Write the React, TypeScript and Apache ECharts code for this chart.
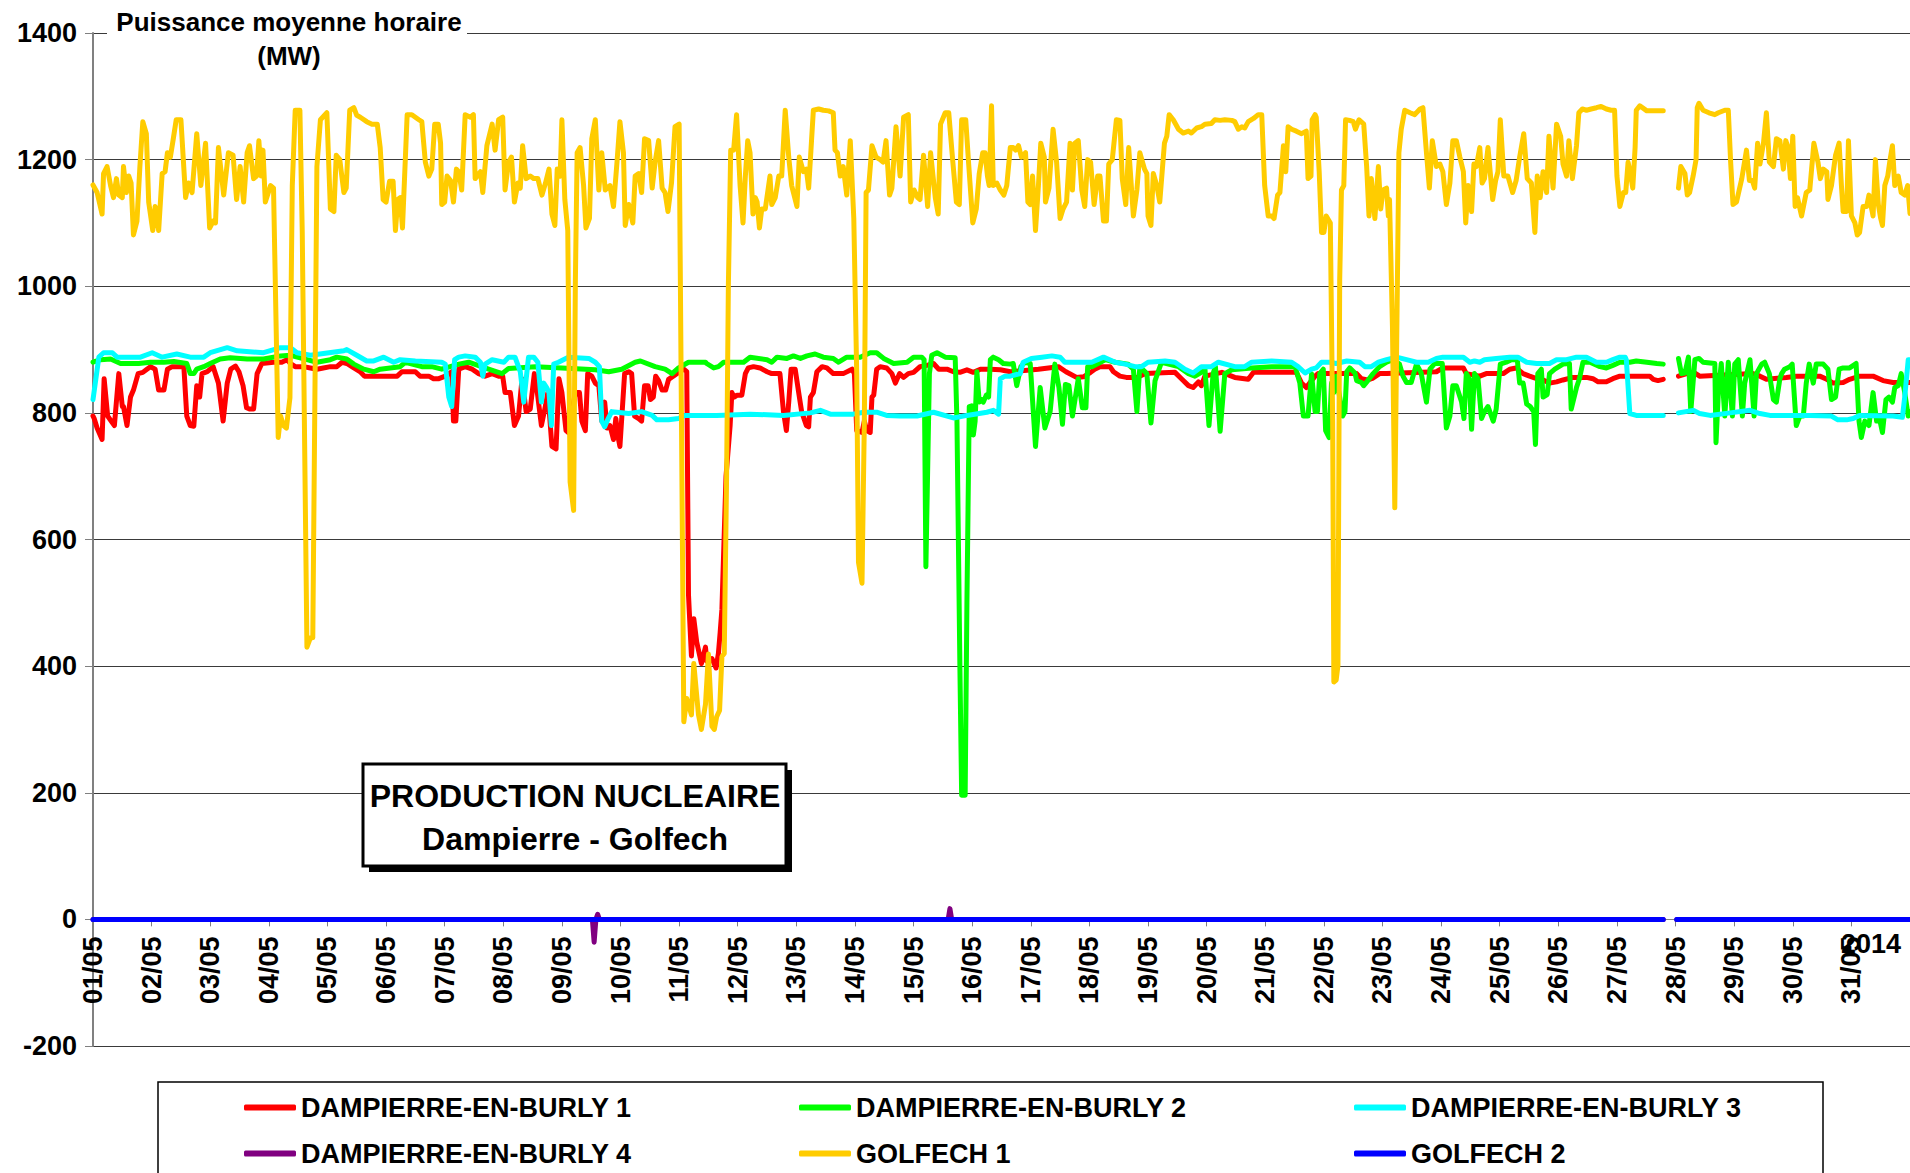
import React, { useEffect, useRef } from 'react';
import * as echarts from 'echarts';

// ---------- DATA (x = days since 01/05 00:00, y = MW) ----------
const dayLabels = ['01/05','02/05','03/05','04/05','05/05','06/05','07/05','08/05','09/05','10/05','11/05','12/05','13/05','14/05','15/05','16/05','17/05','18/05','19/05','20/05','21/05','22/05','23/05','24/05','25/05','26/05','27/05','28/05','29/05','30/05','31/05'];
const yearLabel = '2014';
const yTitle = 'Puissance moyenne horaire\n(MW)';
const boxTitle = 'PRODUCTION NUCLEAIRE\nDampierre - Golfech';
const seriesNames = ['DAMPIERRE-EN-BURLY 1','DAMPIERRE-EN-BURLY 2','DAMPIERRE-EN-BURLY 3','DAMPIERRE-EN-BURLY 4','GOLFECH 1','GOLFECH 2'];
const seriesColors = ['#FF0000','#00FF00','#00FFFF','#800080','#FFCC00','#0000FF'];

const dampierre1 = [[0,795],[0.02,791],[0.07,776],[0.155,758],[0.19,854],[0.25,795],[0.31,787],[0.365,780],[0.44,862],[0.50,810],[0.52,810],[0.58,780],[0.64,825],[0.69,836],[0.77,862],[0.85,864],[0.92,869],[0.98,873],[1.06,869],[1.12,836],[1.21,836],[1.27,869],[1.35,873],[1.55,873],[1.60,795],[1.66,780],[1.72,779],[1.77,843],[1.82,825],[1.86,862],[1.95,865],[2.05,873],[2.14,847],[2.22,787],[2.29,847],[2.35,869],[2.43,874],[2.49,865],[2.56,843],[2.62,808],[2.67,806],[2.74,806],[2.80,862],[2.88,878],[3.08,880],[3.22,880],[3.31,884],[3.37,878],[3.45,873],[3.59,873],[3.71,871],[3.82,869],[3.93,871],[4.05,873],[4.16,873],[4.25,880],[4.33,878],[4.45,871],[4.56,865],[4.63,858],[4.73,858],[5.19,858],[5.27,865],[5.39,865],[5.50,865],[5.58,858],[5.73,858],[5.81,854],[5.90,854],[6.01,858],[6.12,865],[6.15,787],[6.19,787],[6.24,869],[6.35,873],[6.47,869],[6.58,862],[6.69,858],[6.81,862],[6.92,858],[6.99,858],[7.03,832],[7.12,832],[7.19,780],[7.26,795],[7.32,854],[7.39,802],[7.46,806],[7.53,862],[7.57,840],[7.65,780],[7.70,802],[7.76,832],[7.83,747],[7.90,743],[7.95,854],[8.00,832],[8.07,772],[8.11,769],[8.17,802],[8.23,832],[8.30,832],[8.34,787],[8.40,772],[8.44,862],[8.51,858],[8.57,847],[8.63,843],[8.68,787],[8.73,817],[8.77,776],[8.82,780],[8.88,758],[8.92,791],[8.96,761],[8.99,747],[9.07,862],[9.14,865],[9.19,862],[9.24,795],[9.31,791],[9.36,787],[9.41,843],[9.47,843],[9.51,821],[9.56,825],[9.60,858],[9.65,851],[9.71,836],[9.77,836],[9.82,853],[9.90,858],[9.99,864],[10.08,869],[10.13,865],[10.16,512],[10.21,416],[10.25,475],[10.30,438],[10.38,404],[10.45,430],[10.47,408],[10.56,412],[10.63,397],[10.67,420],[10.70,453],[10.73,490],[10.80,700],[10.87,780],[10.90,832],[10.94,825],[10.99,828],[11.07,828],[11.13,862],[11.18,871],[11.27,873],[11.38,871],[11.50,865],[11.58,862],[11.72,862],[11.78,802],[11.83,772],[11.87,817],[11.91,869],[11.98,869],[12.04,832],[12.09,802],[12.17,780],[12.21,778],[12.24,825],[12.29,832],[12.35,865],[12.44,873],[12.52,871],[12.63,862],[12.80,862],[12.95,869],[12.99,862],[13.03,772],[13.12,769],[13.16,787],[13.20,772],[13.26,769],[13.29,825],[13.32,828],[13.37,869],[13.43,873],[13.54,871],[13.63,862],[13.69,847],[13.76,862],[13.83,856],[13.91,862],[14.00,864],[14.11,873],[14.23,875],[14.34,878],[14.43,869],[14.57,869],[14.68,865],[14.79,864],[14.91,868],[15.02,864],[15.14,869],[15.31,869],[15.48,868],[15.65,865],[16.13,869],[16.47,873],[16.60,865],[16.78,856],[16.90,857],[17.02,864],[17.09,869],[17.18,873],[17.35,873],[17.41,865],[17.52,858],[17.63,856],[17.81,856],[17.95,862],[18.46,864],[18.57,854],[18.69,843],[18.77,840],[18.86,849],[18.91,843],[18.97,858],[19.26,864],[19.48,856],[19.71,853],[19.80,864],[20.11,864],[20.53,864],[20.62,847],[20.70,840],[20.79,851],[20.85,858],[20.90,862],[21.56,862],[21.64,854],[21.75,852],[21.84,855],[21.95,862],[22.07,862],[22.92,865],[23.03,871],[23.38,871],[23.43,862],[23.66,858],[23.77,862],[24.06,862],[24.17,869],[24.28,871],[24.40,862],[24.51,858],[24.63,854],[24.74,852],[24.85,847],[24.97,849],[25.08,852],[25.25,856],[25.48,856],[25.59,854],[25.68,849],[25.82,849],[25.93,854],[26.05,858],[26.56,858],[26.62,853],[26.70,851],[26.79,853],[26.9,null],[27.05,858],[27.19,862],[27.33,863],[27.41,858],[28.32,862],[28.44,858],[28.55,853],[28.89,856],[29.06,858],[29.46,858],[29.58,853],[29.69,847],[29.86,848],[29.97,853],[30.14,858],[30.37,858],[30.54,851],[30.71,848],[31.00,848]];

const dampierre2 = [[0,880],[0.13,884],[0.30,885],[0.47,878],[0.78,878],[0.98,880],[1.21,880],[1.38,881],[1.60,878],[1.66,862],[1.72,862],[1.77,869],[1.89,873],[2.00,878],[2.17,885],[2.34,887],[2.63,885],[2.91,885],[3.20,890],[3.37,891],[3.65,884],[3.82,880],[4.05,884],[4.16,888],[4.33,885],[4.45,877],[4.62,869],[4.79,865],[4.90,869],[5.07,871],[5.24,873],[5.33,880],[5.61,873],[5.78,873],[5.95,869],[6.24,877],[6.41,880],[6.75,869],[6.98,862],[7.09,870],[7.55,873],[8.00,871],[8.57,868],[8.80,865],[9.02,869],[9.25,880],[9.34,882],[9.59,873],[9.76,869],[9.88,862],[9.99,871],[10.16,880],[10.45,880],[10.47,878],[10.59,871],[10.67,873],[10.76,880],[10.93,880],[11.10,880],[11.21,888],[11.50,884],[11.58,880],[11.67,888],[11.84,886],[11.95,890],[12.07,886],[12.18,890],[12.32,893],[12.46,888],[12.63,886],[12.72,880],[12.86,888],[13.09,888],[13.26,895],[13.37,895],[13.49,886],[13.66,878],[13.89,880],[14.00,888],[14.14,888],[14.18,884],[14.21,557],[14.27,862],[14.31,891],[14.40,895],[14.54,888],[14.71,887],[14.74,787],[14.79,400],[14.82,196],[14.88,196],[14.91,500],[14.95,810],[14.99,811],[15.02,765],[15.05,787],[15.08,865],[15.12,817],[15.16,821],[15.19,817],[15.24,828],[15.28,825],[15.31,884],[15.36,888],[15.45,884],[15.53,878],[15.65,877],[15.70,878],[15.76,843],[15.83,873],[15.90,880],[15.99,878],[16.08,747],[16.16,840],[16.24,776],[16.33,802],[16.41,877],[16.48,840],[16.54,782],[16.59,845],[16.65,843],[16.71,795],[16.81,854],[16.88,808],[16.94,808],[16.97,873],[17.04,873],[17.27,884],[17.44,880],[17.66,877],[17.75,869],[17.81,802],[17.86,873],[17.98,862],[18.05,784],[18.12,851],[18.23,880],[18.52,873],[18.69,862],[18.80,858],[18.91,864],[18.97,871],[19.04,780],[19.11,862],[19.15,873],[19.23,771],[19.31,862],[19.43,868],[19.77,871],[20.11,873],[20.51,873],[20.59,847],[20.65,795],[20.73,795],[20.79,862],[20.85,802],[20.89,802],[20.93,862],[20.99,869],[21.03,772],[21.09,761],[21.13,847],[21.17,832],[21.21,858],[21.27,825],[21.32,795],[21.36,802],[21.39,865],[21.44,871],[21.53,863],[21.56,851],[21.64,848],[21.68,843],[21.75,851],[21.84,862],[21.95,873],[22.07,880],[22.18,884],[22.29,877],[22.35,858],[22.41,848],[22.49,848],[22.58,877],[22.66,863],[22.75,817],[22.81,869],[22.89,878],[23.02,878],[23.09,776],[23.15,795],[23.20,843],[23.26,843],[23.35,817],[23.39,791],[23.43,862],[23.48,854],[23.52,774],[23.57,862],[23.63,854],[23.69,791],[23.74,802],[23.80,810],[23.89,787],[23.94,806],[24.01,877],[24.11,880],[24.20,884],[24.30,884],[24.34,847],[24.40,847],[24.46,814],[24.52,810],[24.58,802],[24.61,750],[24.65,862],[24.71,869],[24.74,825],[24.81,829],[24.85,862],[24.94,869],[25.08,877],[25.19,878],[25.22,806],[25.31,840],[25.36,854],[25.42,880],[25.54,880],[25.71,873],[25.82,871],[25.93,875],[26.05,880],[26.22,880],[26.33,882],[26.51,880],[26.68,878],[26.79,877],[26.9,null],[27.05,886],[27.10,862],[27.16,863],[27.22,888],[27.26,802],[27.33,884],[27.40,886],[27.47,880],[27.67,878],[27.69,753],[27.73,832],[27.78,878],[27.84,795],[27.90,880],[27.97,795],[28.01,877],[28.07,884],[28.14,795],[28.18,847],[28.27,884],[28.34,795],[28.38,862],[28.47,877],[28.52,880],[28.60,862],[28.67,821],[28.72,817],[28.78,854],[28.81,862],[28.86,869],[28.95,873],[28.99,877],[29.06,780],[29.12,795],[29.18,795],[29.23,847],[29.28,877],[29.35,847],[29.40,877],[29.52,877],[29.60,869],[29.66,821],[29.73,825],[29.79,869],[29.86,871],[29.97,871],[30.08,878],[30.13,787],[30.17,761],[30.23,787],[30.30,780],[30.37,832],[30.43,787],[30.47,795],[30.53,769],[30.59,821],[30.64,825],[30.70,817],[30.74,840],[30.80,843],[30.85,862],[30.91,832],[30.97,795],[31.00,802]];

const dampierre3 = [[0,821],[0.10,888],[0.18,895],[0.33,895],[0.41,888],[0.81,888],[1.01,895],[1.18,888],[1.43,893],[1.66,888],[1.89,888],[2.00,895],[2.29,903],[2.46,898],[2.91,895],[3.20,903],[3.37,903],[3.48,895],[3.71,891],[4.28,898],[4.33,900],[4.50,891],[4.67,882],[4.79,882],[4.96,888],[5.13,880],[5.24,884],[5.50,882],[5.95,880],[6.01,877],[6.07,825],[6.12,810],[6.17,884],[6.24,888],[6.35,890],[6.52,888],[6.61,880],[6.65,858],[6.69,877],[6.81,884],[7.01,880],[7.09,888],[7.20,888],[7.29,865],[7.35,817],[7.40,862],[7.43,888],[7.52,888],[7.59,880],[7.65,817],[7.69,847],[7.74,840],[7.78,832],[7.82,780],[7.86,877],[7.94,880],[8.11,888],[8.46,886],[8.57,880],[8.64,873],[8.68,787],[8.73,778],[8.79,791],[8.85,802],[8.94,801],[9.14,799],[9.36,802],[9.54,796],[9.62,789],[9.82,789],[9.99,791],[10.10,796],[10.64,796],[11.21,798],[11.78,796],[12.24,800],[12.41,804],[12.58,798],[12.97,798],[13.15,801],[13.37,801],[13.54,796],[13.77,795],[14.06,795],[14.34,801],[14.68,792],[14.91,796],[15.25,801],[15.36,804],[15.45,798],[15.48,854],[15.56,858],[15.65,858],[15.82,862],[15.87,880],[16.01,886],[16.19,888],[16.36,890],[16.50,888],[16.58,880],[17.04,880],[17.24,888],[17.44,880],[17.61,877],[17.78,873],[17.89,873],[18.00,880],[18.29,882],[18.46,880],[18.63,869],[18.77,863],[18.91,873],[19.08,873],[19.20,880],[19.48,873],[19.65,873],[19.77,880],[20.11,882],[20.45,880],[20.56,873],[20.68,863],[20.79,869],[20.87,871],[20.96,880],[21.10,880],[21.21,878],[21.39,882],[21.61,880],[21.70,873],[21.81,873],[21.93,880],[22.07,884],[22.24,888],[22.41,884],[22.58,880],[22.78,880],[22.92,886],[23.03,888],[23.38,888],[23.49,880],[23.57,882],[23.66,880],[23.74,884],[23.94,886],[24.17,888],[24.31,888],[24.46,880],[24.63,878],[24.85,878],[24.97,884],[25.14,884],[25.31,888],[25.48,888],[25.65,880],[25.82,880],[25.93,884],[26.05,888],[26.14,888],[26.16,884],[26.22,799],[26.33,796],[26.79,796],[26.9,null],[27.05,800],[27.30,804],[27.41,799],[27.59,796],[27.93,800],[28.27,804],[28.44,799],[28.61,796],[29.29,796],[29.66,795],[29.77,789],[29.92,789],[30.03,791],[30.14,796],[30.71,795],[30.87,793],[30.91,825],[30.97,884],[31.00,884]];

const dampierre4 = [[0,0],[8.52,0],[8.55,-36],[8.58,0],[8.61,8],[8.64,0],[14.59,0],[14.62,17],[14.65,0],[26.79,0],[26.9,null],[27.02,0],[31,0]];

const golfech1 = [[0,1160],[0.07,1148],[0.155,1114],[0.18,1178],[0.24,1189],[0.30,1159],[0.35,1140],[0.40,1170],[0.44,1144],[0.50,1140],[0.52,1189],[0.57,1148],[0.61,1174],[0.65,1163],[0.69,1081],[0.75,1103],[0.80,1189],[0.85,1260],[0.91,1241],[0.95,1133],[1.02,1088],[1.06,1126],[1.12,1088],[1.18,1178],[1.23,1181],[1.27,1211],[1.32,1204],[1.37,1233],[1.42,1263],[1.50,1263],[1.58,1140],[1.63,1163],[1.69,1148],[1.77,1241],[1.84,1159],[1.92,1226],[1.99,1092],[2.05,1103],[2.09,1100],[2.14,1219],[2.23,1144],[2.31,1211],[2.39,1207],[2.45,1137],[2.51,1189],[2.57,1133],[2.63,1211],[2.67,1222],[2.74,1170],[2.79,1174],[2.83,1230],[2.87,1174],[2.90,1215],[2.94,1133],[3.03,1159],[3.08,1155],[3.16,761],[3.20,795],[3.25,780],[3.30,776],[3.36,824],[3.40,1159],[3.45,1278],[3.53,1278],[3.57,1085],[3.65,430],[3.71,445],[3.75,445],[3.82,1189],[3.88,1263],[3.99,1274],[4.05,1122],[4.11,1118],[4.15,1207],[4.21,1200],[4.28,1148],[4.32,1155],[4.38,1278],[4.45,1282],[4.50,1270],[4.56,1267],[4.67,1260],[4.76,1256],[4.85,1256],[4.90,1219],[4.95,1137],[5.00,1133],[5.06,1166],[5.12,1166],[5.16,1088],[5.20,1137],[5.24,1140],[5.28,1092],[5.36,1271],[5.44,1271],[5.56,1263],[5.61,1260],[5.67,1196],[5.73,1174],[5.78,1185],[5.83,1256],[5.89,1256],[5.93,1226],[5.95,1129],[6.00,1133],[6.04,1174],[6.10,1167],[6.15,1133],[6.20,1185],[6.24,1181],[6.29,1152],[6.35,1271],[6.44,1267],[6.49,1271],[6.52,1170],[6.61,1181],[6.65,1148],[6.72,1222],[6.81,1256],[6.86,1215],[6.92,1263],[6.99,1267],[7.03,1152],[7.09,1196],[7.14,1204],[7.19,1133],[7.25,1163],[7.29,1155],[7.33,1222],[7.39,1170],[7.46,1174],[7.52,1170],[7.59,1170],[7.66,1144],[7.72,1163],[7.78,1185],[7.83,1114],[7.88,1096],[7.92,1185],[7.97,1174],[8.00,1263],[8.05,1137],[8.10,1088],[8.14,691],[8.20,646],[8.23,1010],[8.26,1211],[8.31,1219],[8.37,1159],[8.41,1092],[8.47,1107],[8.51,1233],[8.57,1263],[8.63,1152],[8.68,1211],[8.74,1152],[8.82,1159],[8.88,1126],[8.94,1196],[8.99,1260],[9.05,1211],[9.08,1096],[9.14,1129],[9.21,1100],[9.25,1174],[9.31,1178],[9.36,1148],[9.41,1233],[9.48,1230],[9.54,1155],[9.59,1196],[9.65,1230],[9.71,1155],[9.76,1148],[9.81,1118],[9.87,1163],[9.93,1252],[10.00,1256],[10.04,787],[10.08,312],[10.13,349],[10.21,323],[10.25,404],[10.33,323],[10.38,300],[10.45,340],[10.50,419],[10.56,305],[10.60,300],[10.64,320],[10.69,330],[10.73,415],[10.77,420],[10.81,700],[10.84,1000],[10.88,1215],[10.93,1215],[10.98,1271],[11.04,1159],[11.09,1100],[11.13,1174],[11.17,1230],[11.21,1211],[11.26,1114],[11.30,1140],[11.33,1133],[11.37,1092],[11.41,1122],[11.47,1122],[11.55,1174],[11.58,1129],[11.64,1140],[11.70,1174],[11.75,1174],[11.81,1278],[11.87,1204],[11.92,1159],[12.01,1126],[12.05,1204],[12.12,1181],[12.17,1185],[12.21,1155],[12.29,1278],[12.38,1280],[12.46,1278],[12.55,1277],[12.63,1274],[12.66,1215],[12.70,1211],[12.75,1174],[12.80,1189],[12.86,1144],[12.92,1230],[12.98,1107],[13.03,862],[13.06,564],[13.12,531],[13.16,787],[13.19,1148],[13.23,1152],[13.29,1222],[13.36,1204],[13.43,1200],[13.48,1196],[13.53,1230],[13.59,1144],[13.63,1155],[13.70,1252],[13.77,1174],[13.83,1267],[13.91,1271],[13.95,1133],[14.01,1152],[14.07,1140],[14.11,1137],[14.17,1207],[14.24,1126],[14.29,1211],[14.37,1140],[14.42,1114],[14.46,1256],[14.54,1274],[14.60,1274],[14.67,1196],[14.73,1133],[14.78,1129],[14.82,1263],[14.89,1263],[14.94,1193],[15.01,1100],[15.07,1122],[15.12,1178],[15.18,1211],[15.22,1211],[15.26,1174],[15.29,1159],[15.33,1285],[15.36,1159],[15.42,1163],[15.48,1152],[15.54,1144],[15.59,1159],[15.65,1219],[15.70,1219],[15.74,1215],[15.79,1222],[15.84,1204],[15.91,1211],[15.95,1133],[15.99,1129],[16.03,1174],[16.08,1088],[16.13,1159],[16.17,1226],[16.23,1204],[16.25,1133],[16.31,1155],[16.38,1248],[16.44,1196],[16.50,1107],[16.55,1122],[16.61,1133],[16.67,1226],[16.71,1152],[16.75,1226],[16.81,1230],[16.87,1152],[16.92,1126],[16.97,1200],[17.02,1196],[17.08,1129],[17.14,1174],[17.18,1174],[17.24,1103],[17.29,1103],[17.33,1193],[17.39,1200],[17.46,1263],[17.52,1262],[17.56,1170],[17.62,1129],[17.67,1219],[17.75,1111],[17.81,1152],[17.86,1211],[17.94,1185],[17.98,1178],[18.00,1111],[18.05,1096],[18.09,1178],[18.15,1159],[18.20,1133],[18.28,1226],[18.32,1237],[18.36,1271],[18.43,1263],[18.52,1248],[18.60,1242],[18.69,1245],[18.74,1242],[18.83,1250],[18.91,1252],[18.97,1256],[19.08,1257],[19.14,1263],[19.23,1262],[19.31,1263],[19.43,1262],[19.48,1260],[19.54,1248],[19.60,1252],[19.65,1250],[19.71,1260],[19.80,1265],[19.88,1271],[19.94,1271],[19.99,1159],[20.05,1111],[20.11,1111],[20.15,1107],[20.21,1144],[20.25,1148],[20.31,1222],[20.35,1181],[20.39,1252],[20.45,1248],[20.53,1245],[20.62,1241],[20.70,1245],[20.73,1170],[20.78,1174],[20.80,1263],[20.85,1271],[20.87,1267],[20.92,1181],[20.96,1085],[21.00,1085],[21.04,1111],[21.11,1100],[21.15,787],[21.17,375],[21.21,378],[21.24,401],[21.27,1010],[21.30,1152],[21.34,1159],[21.37,1263],[21.44,1262],[21.50,1260],[21.54,1248],[21.60,1263],[21.68,1256],[21.73,1189],[21.77,1111],[21.81,1170],[21.87,1107],[21.93,1189],[21.97,1122],[22.01,1152],[22.07,1155],[22.10,1111],[22.12,1137],[22.17,936],[22.21,650],[22.25,973],[22.28,1211],[22.32,1248],[22.38,1278],[22.47,1274],[22.55,1271],[22.64,1280],[22.69,1282],[22.75,1211],[22.80,1155],[22.85,1230],[22.92,1189],[22.98,1193],[23.03,1181],[23.09,1129],[23.15,1163],[23.20,1230],[23.26,1230],[23.32,1204],[23.38,1181],[23.42,1100],[23.46,1159],[23.52,1118],[23.56,1193],[23.60,1189],[23.66,1219],[23.70,1163],[23.74,1170],[23.80,1219],[23.88,1137],[23.93,1167],[23.97,1181],[24.01,1263],[24.07,1174],[24.14,1174],[24.22,1148],[24.28,1167],[24.34,1204],[24.41,1241],[24.47,1170],[24.54,1163],[24.60,1085],[24.64,1174],[24.69,1140],[24.74,1181],[24.80,1148],[24.84,1237],[24.91,1155],[24.97,1256],[25.04,1237],[25.08,1193],[25.14,1174],[25.18,1230],[25.24,1170],[25.31,1222],[25.35,1274],[25.41,1280],[25.48,1278],[25.56,1280],[25.65,1282],[25.73,1284],[25.82,1280],[25.90,1278],[25.96,1278],[26.00,1174],[26.05,1126],[26.11,1148],[26.15,1148],[26.19,1196],[26.23,1178],[26.27,1155],[26.31,1219],[26.33,1278],[26.39,1285],[26.51,1277],[26.62,1277],[26.79,1277],[26.9,null],[27.05,1155],[27.09,1189],[27.16,1178],[27.20,1144],[27.24,1148],[27.30,1174],[27.35,1200],[27.37,1282],[27.40,1289],[27.47,1278],[27.57,1274],[27.67,1271],[27.73,1274],[27.84,1278],[27.90,1278],[27.94,1196],[27.98,1129],[28.04,1133],[28.13,1170],[28.21,1215],[28.26,1167],[28.31,1167],[28.35,1155],[28.40,1226],[28.44,1193],[28.50,1226],[28.55,1274],[28.60,1196],[28.67,1189],[28.72,1233],[28.78,1230],[28.84,1185],[28.88,1230],[28.92,1219],[28.96,1170],[29.00,1237],[29.04,1126],[29.08,1140],[29.15,1111],[29.23,1148],[29.29,1152],[29.36,1226],[29.43,1196],[29.47,1170],[29.52,1185],[29.58,1181],[29.60,1137],[29.66,1159],[29.73,1207],[29.79,1226],[29.83,1159],[29.86,1118],[29.92,1118],[29.95,1230],[30.00,1111],[30.06,1100],[30.10,1081],[30.14,1085],[30.20,1126],[30.26,1126],[30.30,1144],[30.37,1111],[30.41,1200],[30.46,1129],[30.50,1107],[30.53,1096],[30.57,1159],[30.62,1174],[30.66,1200],[30.70,1222],[30.74,1159],[30.80,1174],[30.85,1148],[30.91,1144],[30.96,1159],[31.00,1115]];

const golfech2 = [[0,0],[26.79,0],[26.9,null],[27.02,0],[31,0]];

const allSeries = [dampierre1, dampierre2, dampierre3, dampierre4, golfech1, golfech2];

// ---------- STYLE ----------
const FONT = '"Liberation Sans", Arial, Helvetica, sans-serif';
const Y_MIN = -200;
const Y_MAX = 1400;
const GRID_TOP = 33;
const GRID_BOTTOM_PX = 1046;

export default function App() {
  const ref = useRef<HTMLDivElement>(null);

  useEffect(() => {
    if (!ref.current) return;
    const chart = echarts.init(ref.current, undefined, { renderer: 'svg' });

    const series = allSeries.map((d, i) => ({
      name: seriesNames[i],
      type: 'line',
      data: d.map((p) => [p[0], p[1] === null ? '-' : p[1]]),
      symbol: 'none',
      showSymbol: false,
      connectNulls: false,
      clip: true,
      color: seriesColors[i],
      lineStyle: { color: seriesColors[i], width: 5, cap: 'round', join: 'round' },
      z: 2 + i,
    }));

    // pixel distance between the plot bottom (-200) and the zero line
    const plotH = GRID_BOTTOM_PX - GRID_TOP;
    const zeroOffset = (0 - Y_MIN) / (Y_MAX - Y_MIN) * plotH;

    const legendBase = {
      orient: 'vertical',
      top: 1094,
      padding: 0,
      itemGap: 19,
      itemWidth: 52,
      itemHeight: 6,
      icon: 'roundRect',
      selectedMode: false,
      textStyle: { fontFamily: FONT, fontWeight: 'bold', fontSize: 27, color: '#000', lineHeight: 26 },
    };

    chart.setOption({
      animation: false,
      backgroundColor: '#ffffff',
      textStyle: { fontFamily: FONT },
      grid: { left: 93, right: 0, top: GRID_TOP, bottom: 1173 - GRID_BOTTOM_PX, containLabel: false },
      xAxis: {
        type: 'value',
        min: 0,
        max: 31,
        interval: 1,
        offset: -zeroOffset,
        axisLine: { show: true, onZero: false, lineStyle: { color: '#808080', width: 1 } },
        axisTick: { show: true, inside: false, length: 7, lineStyle: { color: '#808080', width: 1 } },
        splitLine: { show: false },
        axisLabel: {
          rotate: 90,
          margin: 17,
          fontFamily: FONT,
          fontWeight: 'bold',
          fontSize: 27,
          color: '#000',
          hideOverlap: false,
          formatter: (v: number) => {
            const k = Math.round(v);
            return Math.abs(v - k) < 1e-6 && dayLabels[k] !== undefined ? dayLabels[k] : '';
          },
        },
      },
      yAxis: {
        type: 'value',
        min: Y_MIN,
        max: Y_MAX,
        interval: 200,
        axisLine: { show: true, lineStyle: { color: '#808080', width: 2 } },
        axisTick: { show: true, inside: false, length: 8, lineStyle: { color: '#808080', width: 1 } },
        splitLine: { show: true, lineStyle: { color: '#3a3a3a', width: 1 } },
        axisLabel: { margin: 16, fontFamily: FONT, fontWeight: 'bold', fontSize: 27, color: '#000', formatter: (v: number) => String(v) },
      },
      legend: [
        { ...legendBase, left: 244, data: [seriesNames[0], seriesNames[3]] },
        { ...legendBase, left: 799, data: [seriesNames[1], seriesNames[4]] },
        { ...legendBase, left: 1354, data: [seriesNames[2], seriesNames[5]] },
      ],
      graphic: [
        { type: 'rect', z: 1, shape: { x: 158, y: 1082, width: 1665, height: 140 }, style: { fill: '#fff', stroke: '#000', lineWidth: 1.5 } },
        { type: 'rect', z: 10, shape: { x: 107, y: 0, width: 360, height: 74 }, style: { fill: '#fff' } },
        { type: 'text', z: 11, x: 289, y: 5, style: { text: yTitle, fontFamily: FONT, fontWeight: 'bold', fontSize: 26, lineHeight: 34, textAlign: 'center', textVerticalAlign: 'top', fill: '#000' } },
        { type: 'rect', z: 10, shape: { x: 369, y: 770, width: 423, height: 102 }, style: { fill: '#000' } },
        { type: 'rect', z: 11, shape: { x: 363, y: 764, width: 423, height: 102 }, style: { fill: '#fff', stroke: '#000', lineWidth: 3 } },
        { type: 'text', z: 12, x: 575, y: 774, style: { text: boxTitle, fontFamily: FONT, fontWeight: 'bold', fontSize: 32, lineHeight: 43, textAlign: 'center', textVerticalAlign: 'top', fill: '#000' } },
        { type: 'text', z: 12, x: 1841, y: 944, style: { text: yearLabel, fontFamily: FONT, fontWeight: 'bold', fontSize: 27, textAlign: 'left', textVerticalAlign: 'middle', fill: '#000' } },
      ],
      series,
    });

    return () => chart.dispose();
  }, []);

  return <div ref={ref} style={{ position: 'absolute', left: 0, top: 0, width: 1910, height: 1173 }} />;
}
